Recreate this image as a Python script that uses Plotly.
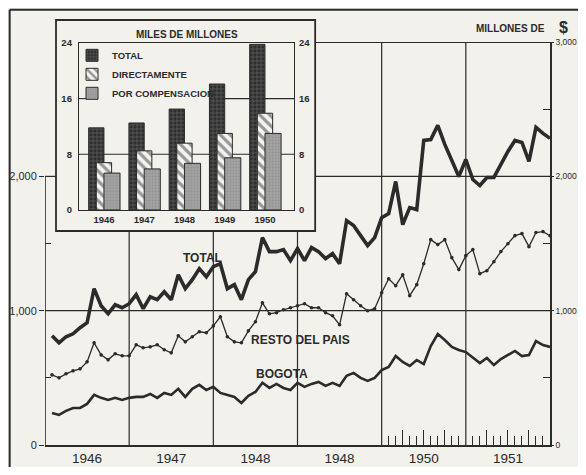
import plotly.graph_objects as go

# ---------------- data ----------------
month_index = list(range(1, 73))  # monthly points, 1946 .. 1951

total = [813, 761, 806, 828, 873, 910, 1164, 1037, 977, 1044, 1022, 1052,
         1119, 1015, 1104, 1082, 1141, 1082, 1268, 1164, 1231, 1313, 1253, 1328,
         1350, 1164, 1194, 1082, 1231, 1291, 1544, 1440, 1440, 1455, 1373, 1462,
         1373, 1470, 1440, 1388, 1425, 1350, 1671, 1634, 1559, 1485, 1544, 1693,
         1723, 1962, 1641, 1768, 1753, 2268, 2275, 2380, 2238, 2126, 1999, 2126,
         1977, 1932, 1992, 1992, 2089, 2186, 2268, 2253, 2111, 2365, 2320, 2283]

resto_del_pais = [522, 500, 530, 552, 567, 619, 761, 671, 634, 679, 664, 664,
                  746, 724, 731, 746, 709, 686, 813, 768, 806, 843, 836, 887,
                  955, 806, 768, 761, 850, 918, 1059, 977, 985, 1007, 1022, 1037,
                  1052, 1022, 1022, 985, 962, 895, 1126, 1082, 1037, 1000, 1015, 1134,
                  1238, 1186, 1268, 1112, 1194, 1350, 1529, 1492, 1529, 1395, 1306, 1410,
                  1455, 1276, 1298, 1365, 1440, 1499, 1559, 1574, 1477, 1582, 1589, 1559]

bogota = [239, 224, 254, 276, 276, 306, 373, 351, 336, 351, 336, 351,
          358, 358, 380, 351, 388, 373, 418, 358, 418, 448, 410, 433,
          388, 373, 358, 313, 366, 395, 463, 425, 455, 425, 410, 463,
          433, 455, 470, 440, 463, 440, 515, 537, 500, 477, 500, 558,
          581, 663, 618, 589, 633, 603, 737, 826, 782, 730, 707, 692,
          648, 610, 648, 595, 640, 670, 700, 662, 670, 774, 744, 730]

year_tick_pos = [6, 18, 30, 42, 54, 66]
year_tick_text = ["1946", "1947", "1948", "1948", "1950", "1951"]

left_ticks = [0, 1000, 2000]
left_tick_text = ["0", "1,000", "2,000"]
right_ticks = [0, 1000, 2000, 3000]
right_tick_text = ["0", "1,000", "2,000", "3,000"]

inset_years = [1946, 1947, 1948, 1949, 1950]
inset_total = [11.8, 12.5, 14.5, 18.1, 23.8]
inset_direct = [6.8, 8.5, 9.6, 11.0, 13.9]
inset_comp = [5.3, 5.9, 6.7, 7.5, 11.0]
inset_ticks = [0, 8, 16, 24]

# ---------------- style ----------------
INK = "#2b2b2b"
BG = "#f2f1ec"
SANS = "Liberation Sans, Arial, sans-serif"

fig = go.Figure()

# main lines
fig.add_trace(go.Scatter(x=month_index, y=total, mode="lines",
                         line=dict(color=INK, width=3.6), showlegend=False))
fig.add_trace(go.Scatter(x=month_index, y=resto_del_pais, mode="lines+markers",
                         line=dict(color=INK, width=1.3),
                         marker=dict(size=3.6, color=INK), showlegend=False))
fig.add_trace(go.Scatter(x=month_index, y=bogota, mode="lines",
                         line=dict(color=INK, width=2.6), showlegend=False))
# invisible copies so that the right-hand scale and the month-tick axis are drawn
fig.add_trace(go.Scatter(x=month_index, y=total, yaxis="y4", mode="lines",
                         line=dict(width=0), opacity=0, hoverinfo="skip", showlegend=False))
fig.add_trace(go.Scatter(x=month_index, y=bogota, xaxis="x5", mode="lines",
                         line=dict(width=0), opacity=0, hoverinfo="skip", showlegend=False))

# inset bars
fig.add_trace(go.Bar(x=inset_years, y=inset_total, xaxis="x3", yaxis="y3",
                     name="TOTAL", offset=-0.38, width=0.38,
                     marker=dict(color="#2e2e2e", line=dict(color=INK, width=1),
                                 pattern=dict(shape="+", fgcolor="#a0a0a0",
                                              bgcolor="#2e2e2e", size=4, solidity=0.3))))
fig.add_trace(go.Bar(x=inset_years, y=inset_direct, xaxis="x3", yaxis="y3",
                     name="DIRECTAMENTE", offset=-0.19, width=0.38,
                     marker=dict(color="#f4f4f0", line=dict(color=INK, width=1),
                                 pattern=dict(shape="\\", fgcolor="#3a3a3a",
                                              bgcolor="#f4f4f0", size=7, solidity=0.45))))
fig.add_trace(go.Bar(x=inset_years, y=inset_comp, xaxis="x3", yaxis="y3",
                     name="POR COMPENSACION", offset=0.0, width=0.4,
                     marker=dict(color="#a3a3a3", line=dict(color=INK, width=1),
                                 pattern=dict(shape=".", fgcolor="#7d7d7d",
                                              bgcolor="#a3a3a3", size=3, solidity=0.3))))
fig.add_trace(go.Scatter(x=inset_years, y=inset_total, xaxis="x3", yaxis="y5",
                         mode="markers", opacity=0, hoverinfo="skip", showlegend=False))

num_font = dict(family=SANS, size=11, color=INK)
right_font = dict(family=SANS, size=8.5, color=INK)
small_bold = dict(family=SANS, size=10, color=INK, weight="bold")
inset_font = dict(family=SANS, size=9.5, color=INK, weight="bold")
label_font = dict(family=SANS, size=12, color=INK, weight="bold")

fig.update_layout(
    width=570, height=459,
    margin=dict(l=37, r=28, t=12, b=22, autoexpand=False),
    paper_bgcolor=BG, plot_bgcolor=BG,
    barmode="overlay",
    showlegend=True,
    legend=dict(x=0.0535, y=0.951, xanchor="left", yanchor="top",
                bgcolor="rgba(0,0,0,0)", borderwidth=0,
                font=dict(family=SANS, size=9.5, color=INK, weight="bold"),
                tracegroupgap=0, traceorder="normal"),
    xaxis=dict(domain=[0, 1], anchor="y", range=[0, 72], automargin=False,
               tickvals=year_tick_pos, ticktext=year_tick_text, ticks="",
               showgrid=False, zeroline=False,
               showline=True, mirror=False, linecolor=INK, linewidth=1.6,
               tickfont=dict(family=SANS, size=13.5, color=INK)),
    yaxis=dict(domain=[0, 0.948], anchor="x", range=[0, 3000], automargin=False,
               tickvals=left_ticks, ticktext=left_tick_text,
               ticks="outside", ticklen=5, tickcolor=INK, tickwidth=1.2,
               showgrid=False, zeroline=False, showline=False,
               minor=dict(tickvals=[500, 1500], ticks="inside", ticklen=6,
                          tickcolor=INK, tickwidth=1.2, showgrid=False),
               tickfont=num_font),
    yaxis4=dict(overlaying="y", side="right", anchor="x", range=[0, 3000],
                automargin=False,
                tickvals=right_ticks, ticktext=right_tick_text,
                ticks="outside", ticklen=2, tickcolor=INK, tickwidth=1.2,
                ticklabelstandoff=0,
                showgrid=False, zeroline=False, showline=True,
                linecolor=INK, linewidth=1.6,
                minor=dict(tickvals=[500, 1500, 2500], ticks="inside", ticklen=7,
                           tickcolor=INK, tickwidth=1.2),
                tickfont=right_font),
    xaxis5=dict(overlaying="x", anchor="y", side="bottom", range=[0, 72],
                automargin=False,
                tickvals=[51, 54, 57, 63, 66, 69], ticks="inside", ticklen=15,
                tickcolor=INK, tickwidth=1.3, showticklabels=False,
                showgrid=False, showline=False, zeroline=False,
                minor=dict(tickvals=[49, 50, 52, 53, 55, 56, 58, 59, 61, 62, 64, 65,
                                     67, 68, 70, 71],
                           ticks="inside", ticklen=9, tickcolor=INK, tickwidth=1.3)),
    # inset chart
    xaxis3=dict(domain=[0.0673, 0.493], anchor="y3", range=[1945.38, 1950.72],
                automargin=False,
                tickvals=inset_years, ticks="", showgrid=False, zeroline=False,
                showline=True, mirror=True, linecolor=INK, linewidth=1.3,
                tickfont=inset_font),
    yaxis3=dict(domain=[0.553, 0.946], anchor="x3", range=[0, 24], automargin=False,
                tickvals=inset_ticks, ticks="", showgrid=False,
                zeroline=False, showline=True, mirror=True,
                linecolor=INK, linewidth=1.3, ticklabelstandoff=4,
                tickfont=inset_font),
    yaxis5=dict(overlaying="y3", side="right", anchor="x3", range=[0, 24],
                automargin=False,
                tickvals=inset_ticks, ticks="", showgrid=False, zeroline=False,
                showline=False, ticklabelstandoff=4, tickfont=inset_font),
)

GRID = dict(color=INK, width=1.2)
shapes = [
    # main grid (kept clear of the inset box)
    dict(type="line", xref="x", yref="y", x0=0, x1=72, y0=1000, y1=1000, line=GRID, layer="below"),
    dict(type="line", xref="x", yref="y", x0=0, x1=1.57, y0=2000, y1=2000, line=GRID, layer="below"),
    dict(type="line", xref="x", yref="y", x0=38.5, x1=72, y0=2000, y1=2000, line=GRID, layer="below"),
    dict(type="line", xref="x", yref="y", x0=38.5, x1=72, y0=3000, y1=3000,
         line=dict(color=INK, width=1.6), layer="below"),
    dict(type="line", xref="x", yref="y", x0=12, x1=12, y0=0, y1=1595, line=GRID, layer="below"),
    dict(type="line", xref="x", yref="y", x0=24, x1=24, y0=0, y1=1595, line=GRID, layer="below"),
    dict(type="line", xref="x", yref="y", x0=36, x1=36, y0=0, y1=1595, line=GRID, layer="below"),
    dict(type="line", xref="x", yref="y", x0=48, x1=48, y0=0, y1=3000, line=GRID, layer="below"),
    dict(type="line", xref="x", yref="y", x0=60, x1=60, y0=0, y1=3000, line=GRID, layer="below"),
    # left axis line (visible part)
    dict(type="line", xref="x", yref="y", x0=0, x1=0, y0=0, y1=2000,
         line=dict(color=INK, width=1.6), layer="below"),
    # inset box
    dict(type="rect", xref="paper", yref="paper", x0=0.0218, x1=0.535, y0=0.5035, y1=1.0,
         line=dict(color=INK, width=1.8), fillcolor="rgba(0,0,0,0)", layer="below"),
    # inset grid
    dict(type="line", xref="x3", yref="y3", x0=1945.38, x1=1950.72, y0=8, y1=8,
         line=dict(color=INK, width=1.1), layer="below"),
    dict(type="line", xref="x3", yref="y3", x0=1945.38, x1=1945.58, y0=16, y1=16,
         line=dict(color=INK, width=1.1), layer="below"),
    dict(type="line", xref="x3", yref="y3", x0=1948.61, x1=1950.72, y0=16, y1=16,
         line=dict(color=INK, width=1.1), layer="below"),
    # outer frame
    dict(type="line", xref="paper", yref="paper", x0=-0.07, x1=-0.07, y0=-0.06, y1=1.024,
         line=dict(color=INK, width=2)),
    dict(type="line", xref="paper", yref="paper", x0=-0.07, x1=1.08, y0=1.024, y1=1.024,
         line=dict(color=INK, width=2)),
]
fig.update_layout(shapes=shapes)

annotations = [
    dict(text="MILES DE MILLONES", xref="paper", yref="paper", x=0.281, y=0.966,
         xanchor="center", yanchor="middle", showarrow=False, font=small_bold),
    dict(text="TOTAL", xref="x", yref="y", x=22.5, y=1392, xanchor="center",
         showarrow=False, font=label_font),
    dict(text="RESTO DEL PAIS", xref="x", yref="y", x=36.4, y=782, xanchor="center",
         showarrow=False, font=label_font),
    dict(text="BOGOTA", xref="x", yref="y", x=33.8, y=528, xanchor="center",
         showarrow=False, font=label_font),
    dict(text="MILLONES DE", xref="paper", yref="paper", x=0.995, y=0.981,
         xanchor="right", yanchor="middle", showarrow=False, font=small_bold),
    dict(text="$", xref="paper", yref="paper", x=1.026, y=0.983,
         xanchor="center", yanchor="middle", showarrow=False,
         font=dict(family=SANS, size=16, color=INK, weight="bold")),
]
fig.update_layout(annotations=annotations)

fig.write_html("out.html")
